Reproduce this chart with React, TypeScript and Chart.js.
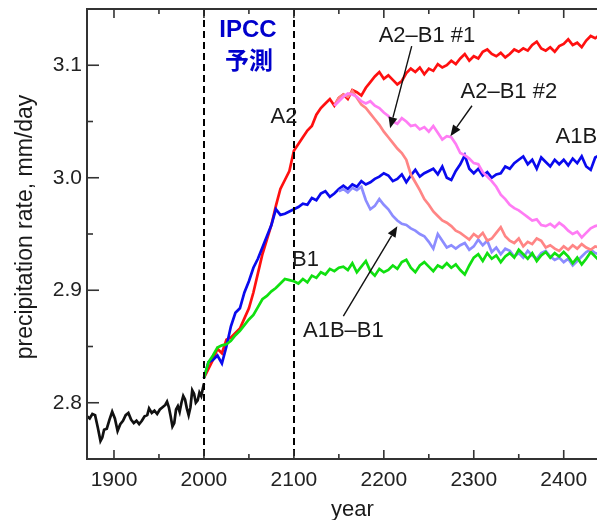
import React, { useEffect, useRef } from "react";
import { Chart, registerables } from "chart.js";

Chart.register(...registerables);

// ---------- data ----------
const histYears = [1870, 1873, 1876, 1879, 1882, 1885, 1887, 1889, 1892, 1895, 1898, 1901, 1904, 1907, 1910, 1913, 1916, 1919, 1922, 1925, 1928, 1931, 1934, 1937, 1939, 1942, 1945, 1948, 1951, 1954, 1957, 1959, 1961, 1963, 1965, 1967, 1969, 1971, 1973, 1975, 1977, 1979, 1981, 1983, 1985, 1987, 1989, 1991, 1993, 1995, 1997, 2000];
const histValues = [2.788, 2.786, 2.790, 2.789, 2.778, 2.766, 2.769, 2.776, 2.777, 2.785, 2.792, 2.786, 2.775, 2.781, 2.784, 2.789, 2.791, 2.785, 2.782, 2.784, 2.781, 2.784, 2.788, 2.789, 2.795, 2.791, 2.793, 2.790, 2.794, 2.796, 2.798, 2.801, 2.796, 2.788, 2.779, 2.782, 2.794, 2.797, 2.792, 2.800, 2.806, 2.803, 2.795, 2.789, 2.796, 2.811, 2.808, 2.800, 2.802, 2.809, 2.806, 2.817];

const futureYears = [
  2000, 2005, 2010, 2015, 2020, 2025, 2030, 2035, 2040, 2045, 2050, 2055, 2060, 2065, 2070, 2075, 2080, 2085, 2090, 2095,
  2100, 2105, 2110, 2115, 2120, 2125, 2130, 2135, 2140, 2145, 2150, 2155, 2160, 2165, 2170, 2175, 2180, 2185, 2190, 2195,
  2200, 2205, 2210, 2215, 2220, 2225, 2230, 2235, 2240, 2245, 2250, 2255, 2260, 2265, 2270, 2275, 2280, 2285, 2290, 2295,
  2300, 2305, 2310, 2315, 2320, 2325, 2330, 2335, 2340, 2345, 2350, 2355, 2360, 2365, 2370, 2375, 2380, 2385, 2390, 2395,
  2400, 2405, 2410, 2415, 2420, 2425, 2430, 2435, 2440,
];

const a2Values = [
  2.822, 2.830, 2.838, 2.848, 2.844, 2.856, 2.858, 2.862, 2.866, 2.875, 2.884, 2.898, 2.915, 2.932, 2.945, 2.958, 2.975, 2.990, 2.998, 3.006,
  3.024, 3.030, 3.036, 3.042, 3.046, 3.056, 3.062, 3.066, 3.070, 3.064, 3.071, 3.074, 3.070, 3.078, 3.076, 3.073, 3.080, 3.085, 3.090, 3.094,
  3.088, 3.091, 3.087, 3.083, 3.086, 3.093, 3.097, 3.094, 3.098, 3.092, 3.097, 3.095, 3.101, 3.098, 3.100, 3.104, 3.101, 3.106, 3.110, 3.104,
  3.108, 3.106, 3.112, 3.114, 3.110, 3.108, 3.111, 3.107, 3.110, 3.114, 3.112, 3.115, 3.113, 3.118, 3.121, 3.115, 3.113, 3.116, 3.112, 3.117,
  3.119, 3.123, 3.118, 3.120, 3.116, 3.122, 3.126, 3.124, 3.127,
];

const a1bValues = [
  2.822, 2.836, 2.838, 2.842, 2.835, 2.850, 2.868, 2.880, 2.884, 2.898, 2.908, 2.920, 2.928, 2.938, 2.948, 2.958, 2.972, 2.967, 2.968, 2.970,
  2.972, 2.974, 2.977, 2.976, 2.982, 2.980, 2.986, 2.988, 2.983, 2.986, 2.990, 2.993, 2.990, 2.994, 2.992, 2.997, 2.994, 2.996, 2.999, 3.001,
  3.004, 3.002, 2.997, 2.999, 3.003, 2.996, 3.002, 3.007, 3.001, 3.004, 3.006, 3.008, 3.003, 3.010, 3.000, 2.998, 3.006, 3.012, 3.020, 3.008,
  3.004, 3.008, 3.002, 3.005, 3.000, 3.003, 3.004, 3.010, 3.008, 3.013, 3.016, 3.019, 3.012, 3.016, 3.008, 3.018, 3.014, 3.010, 3.016, 3.012,
  3.016, 3.011, 3.017, 3.013, 3.019, 3.010, 3.007, 3.018, 3.020,
];

const b1Values = [
  2.822, 2.836, 2.842, 2.849, 2.851, 2.852, 2.855, 2.860, 2.864, 2.869, 2.874, 2.878, 2.885, 2.892, 2.895, 2.899, 2.902, 2.906, 2.910, 2.909,
  2.908, 2.906, 2.910, 2.907, 2.913, 2.911, 2.916, 2.914, 2.919, 2.917, 2.920, 2.921, 2.918, 2.924, 2.916, 2.921, 2.926, 2.917, 2.913, 2.919,
  2.916, 2.918, 2.922, 2.919, 2.925, 2.927, 2.920, 2.916, 2.922, 2.925, 2.921, 2.917, 2.922, 2.920, 2.924, 2.920, 2.923, 2.918, 2.914, 2.922,
  2.929, 2.932, 2.926, 2.933, 2.928, 2.931, 2.925, 2.930, 2.933, 2.929, 2.936, 2.932, 2.928, 2.933, 2.926, 2.931, 2.934, 2.929, 2.933, 2.930,
  2.934, 2.930, 2.924, 2.929, 2.923, 2.928, 2.934, 2.930, 2.926,
];

const N = null;
const a2b1n1Values = [
  N, N, N, N, N, N, N, N, N, N, N, N, N, N, N, N, N, N, N, N,
  N, N, N, N, N, N, N, N, N, 3.064, 3.071, 3.074, 3.072, 3.077, 3.071, 3.065, 3.062, 3.057, 3.052, 3.047,
  3.041, 3.036, 3.031, 3.026, 3.022, 3.016, 3.003, 2.996, 2.989, 2.981, 2.976, 2.970, 2.966, 2.962, 2.960, 2.957, 2.953, 2.951, 2.948, 2.945,
  2.950, 2.947, 2.951, 2.944, 2.946, 2.951, 2.956, 2.948, 2.944, 2.942, 2.946, 2.939, 2.943, 2.941, 2.946, 2.944, 2.938, 2.940, 2.937, 2.935,
  2.939, 2.936, 2.940, 2.937, 2.941, 2.938, 2.936, 2.939, 2.938,
];

const a2b1n2Values = [
  N, N, N, N, N, N, N, N, N, N, N, N, N, N, N, N, N, N, N, N,
  N, N, N, N, N, N, N, N, N, 3.064, 3.068, 3.072, 3.075, 3.074, 3.072, 3.068, 3.066, 3.068, 3.064, 3.062,
  3.058, 3.055, 3.050, 3.048, 3.053, 3.050, 3.046, 3.047, 3.043, 3.045, 3.041, 3.046, 3.040, 3.034, 3.037, 3.036, 3.030, 3.022, 3.020, 3.017,
  3.013, 3.012, 3.005, 3.001, 2.997, 2.992, 2.985, 2.981, 2.976, 2.973, 2.971, 2.968, 2.965, 2.962, 2.963, 2.958, 2.957, 2.959, 2.956, 2.960,
  2.957, 2.953, 2.950, 2.952, 2.947, 2.951, 2.955, 2.957, 2.958,
];

const a1bb1Values = [
  N, N, N, N, N, N, N, N, N, N, N, N, N, N, N, N, N, N, N, N,
  N, N, N, N, N, N, N, N, N, N, 2.988, 2.990, 2.987, 2.991, 2.989, 2.992, 2.980, 2.972, 2.975, 2.981,
  2.976, 2.972, 2.966, 2.962, 2.959, 2.958, 2.955, 2.953, 2.950, 2.948, 2.943, 2.937, 2.950, 2.944, 2.938, 2.940, 2.937, 2.940, 2.942, 2.936,
  2.939, 2.945, 2.940, 2.944, 2.934, 2.938, 2.932, 2.937, 2.935, 2.930, 2.933, 2.929, 2.935, 2.931, 2.928, 2.933, 2.935, 2.930, 2.927, 2.929,
  2.925, 2.928, 2.922, 2.926, 2.930, 2.934, 2.936, 2.933, 2.932,
];

const xTickYears = [1900, 2000, 2100, 2200, 2300, 2400];
const xMinorYears = [1950, 2050, 2150, 2250, 2350];
const yTickValues = [2.8, 2.9, 3.0, 3.1];
const yMinorValues = [2.85, 2.95, 3.05];
const dashedYears = [2000, 2100];

// text annotations
const labelTexts = ["A2", "A2–B1 #1", "A2–B1 #2", "A1B", "B1", "A1B–B1"];
const labelYears = [2074, 2248, 2339, 2391, 2098, 2155];
const labelValues = [3.054, 3.126, 3.076, 3.036, 2.927, 2.864];
const labelAligns = ["left", "center", "center", "left", "left", "center"];

const ipccTexts = ["IPCC", "予測"];
const ipccYears = [2049, 2050];
const ipccValues = [3.131, 3.103];

// arrows: tail (year, value) -> tip (year, value)
const arrowTailYears = [2231, 2298, 2155];
const arrowTailValues = [3.117, 3.064, 2.877];
const arrowTipYears = [2207, 2274, 2215];
const arrowTipValues = [3.044, 3.037, 2.957];

const FONT = '"Liberation Sans", Arial, Helvetica, sans-serif';

function pts(years: number[], vals: (number | null)[]) {
  const out: { x: number; y: number }[] = [];
  vals.forEach((v, i) => {
    if (v !== null) out.push({ x: years[i], y: v });
  });
  return out;
}

const decorPlugin = {
  id: "decor",
  afterDatasetsDraw(chart: any) {
    const { ctx, chartArea: ca } = chart;
    const x = chart.scales.x;
    const y = chart.scales.y;
    ctx.save();

    // dashed verticals
    ctx.strokeStyle = "#000";
    ctx.lineWidth = 2;
    ctx.setLineDash([7, 4]);
    for (const yr of dashedYears) {
      const px = Math.round(x.getPixelForValue(yr));
      ctx.beginPath();
      ctx.moveTo(px, ca.top);
      ctx.lineTo(px, ca.bottom);
      ctx.stroke();
    }
    ctx.setLineDash([]);

    // frame
    ctx.strokeStyle = "#333";
    ctx.lineWidth = 2;
    ctx.beginPath();
    ctx.moveTo(ca.right, ca.top);
    ctx.lineTo(ca.left, ca.top);
    ctx.lineTo(ca.left, ca.bottom);
    ctx.lineTo(ca.right, ca.bottom);
    ctx.stroke();

    // inward ticks
    ctx.lineWidth = 1.6;
    const drawX = (v: number, len: number) => {
      const px = x.getPixelForValue(v);
      ctx.beginPath();
      ctx.moveTo(px, ca.bottom);
      ctx.lineTo(px, ca.bottom - len);
      ctx.moveTo(px, ca.top);
      ctx.lineTo(px, ca.top + len);
      ctx.stroke();
    };
    xTickYears.forEach((v) => drawX(v, 9));
    xMinorYears.forEach((v) => drawX(v, 5));
    const drawY = (v: number, len: number) => {
      const py = y.getPixelForValue(v);
      ctx.beginPath();
      ctx.moveTo(ca.left, py);
      ctx.lineTo(ca.left + len, py);
      ctx.stroke();
    };
    yTickValues.forEach((v) => drawY(v, 12));
    yMinorValues.forEach((v) => drawY(v, 6));

    // arrows
    ctx.strokeStyle = "#111";
    ctx.fillStyle = "#111";
    ctx.lineWidth = 1.4;
    arrowTailYears.forEach((_, i) => {
      const x0 = x.getPixelForValue(arrowTailYears[i]);
      const y0 = y.getPixelForValue(arrowTailValues[i]);
      const x1 = x.getPixelForValue(arrowTipYears[i]);
      const y1 = y.getPixelForValue(arrowTipValues[i]);
      const ang = Math.atan2(y1 - y0, x1 - x0);
      const hl = 11, hw = 4.5;
      const bx = x1 - hl * Math.cos(ang), by = y1 - hl * Math.sin(ang);
      ctx.beginPath();
      ctx.moveTo(x0, y0);
      ctx.lineTo(bx, by);
      ctx.stroke();
      ctx.beginPath();
      ctx.moveTo(x1, y1);
      ctx.lineTo(bx + hw * Math.sin(ang), by - hw * Math.cos(ang));
      ctx.lineTo(bx - hw * Math.sin(ang), by + hw * Math.cos(ang));
      ctx.closePath();
      ctx.fill();
    });

    // labels
    ctx.fillStyle = "#1a1a1a";
    ctx.font = `22px ${FONT}`;
    ctx.textBaseline = "middle";
    labelTexts.forEach((t, i) => {
      ctx.textAlign = labelAligns[i] as CanvasTextAlign;
      ctx.fillText(t, x.getPixelForValue(labelYears[i]), y.getPixelForValue(labelValues[i]));
    });

    ctx.fillStyle = "#0000cc";
    ctx.font = `bold 24px "Liberation Sans", Arial, "Noto Sans CJK JP", sans-serif`;
    ctx.textAlign = "center";
    ipccTexts.forEach((t, i) => {
      ctx.fillText(t, x.getPixelForValue(ipccYears[i]), y.getPixelForValue(ipccValues[i]));
    });

    // axis titles
    ctx.fillStyle = "#1a1a1a";
    ctx.font = `23px ${FONT}`;
    ctx.textAlign = "center";
    ctx.textBaseline = "alphabetic";
    ctx.save();
    ctx.translate(32, 227);
    ctx.rotate(-Math.PI / 2);
    ctx.fillText("precipitation rate, mm/day", 0, 0);
    ctx.restore();

    ctx.font = `22px ${FONT}`;
    ctx.fillText("year", x.getPixelForValue(2165), 516);

    ctx.restore();
  },
};

export default function App() {
  const ref = useRef<HTMLCanvasElement | null>(null);

  useEffect(() => {
    document.body.style.margin = "0";
    const canvas = ref.current;
    if (!canvas) return;
    const common = { pointRadius: 0, borderWidth: 2.7, tension: 0, fill: false };
    const chart = new Chart(canvas, {
      type: "line",
      data: {
        datasets: [
          { ...common, label: "A2–B1 #2", data: pts(futureYears, a2b1n2Values), borderColor: "#ff7cf4", order: 1 },
          { ...common, label: "A2–B1 #1", data: pts(futureYears, a2b1n1Values), borderColor: "#ff8585", order: 2 },
          { ...common, label: "B1", data: pts(futureYears, b1Values), borderColor: "#10e010", order: 3 },
          { ...common, label: "A1B–B1", data: pts(futureYears, a1bb1Values), borderColor: "#8c8cff", order: 4 },
          { ...common, label: "A1B", data: pts(futureYears, a1bValues), borderColor: "#0a0aee", order: 5 },
          { ...common, label: "A2", data: pts(futureYears, a2Values), borderColor: "#ff1010", order: 6 },
          { ...common, label: "obs", data: pts(histYears, histValues), borderColor: "#111111", order: 7 },
        ],
      },
      options: {
        animation: false,
        responsive: false,
        maintainAspectRatio: false,
        layout: { padding: { top: 9, right: 0, left: 0, bottom: 0 } },
        plugins: { legend: { display: false }, tooltip: { enabled: false }, title: { display: false } },
        scales: {
          x: {
            type: "linear",
            min: 1870,
            max: 2437,
            grid: { display: false, drawTicks: false },
            border: { display: false },
            afterBuildTicks: (s: any) => {
              s.ticks = xTickYears.map((v) => ({ value: v }));
            },
            afterFit: (s: any) => {
              s.height = 61;
              s.paddingLeft = 0;
              s.paddingRight = 0;
            },
            ticks: {
              color: "#222",
              font: { family: FONT, size: 21 },
              padding: 9,
              maxRotation: 0,
              autoSkip: false,
              callback: (v: any) => String(v),
            },
          },
          y: {
            type: "linear",
            min: 2.75,
            max: 3.15,
            grid: { display: false, drawTicks: false },
            border: { display: false },
            afterBuildTicks: (s: any) => {
              s.ticks = yTickValues.map((v) => ({ value: v }));
            },
            afterFit: (s: any) => {
              s.width = 87;
              s.paddingTop = 0;
              s.paddingBottom = 0;
            },
            ticks: {
              color: "#222",
              font: { family: FONT, size: 21 },
              padding: 5,
              autoSkip: false,
              callback: (v: any) => Number(v).toFixed(1),
            },
          },
        },
      },
      plugins: [decorPlugin],
    });
    return () => chart.destroy();
  }, []);

  return (
    <div style={{ width: 597, height: 520, background: "#fff" }}>
      <canvas ref={ref} width={597} height={520} style={{ display: "block" }} />
    </div>
  );
}
